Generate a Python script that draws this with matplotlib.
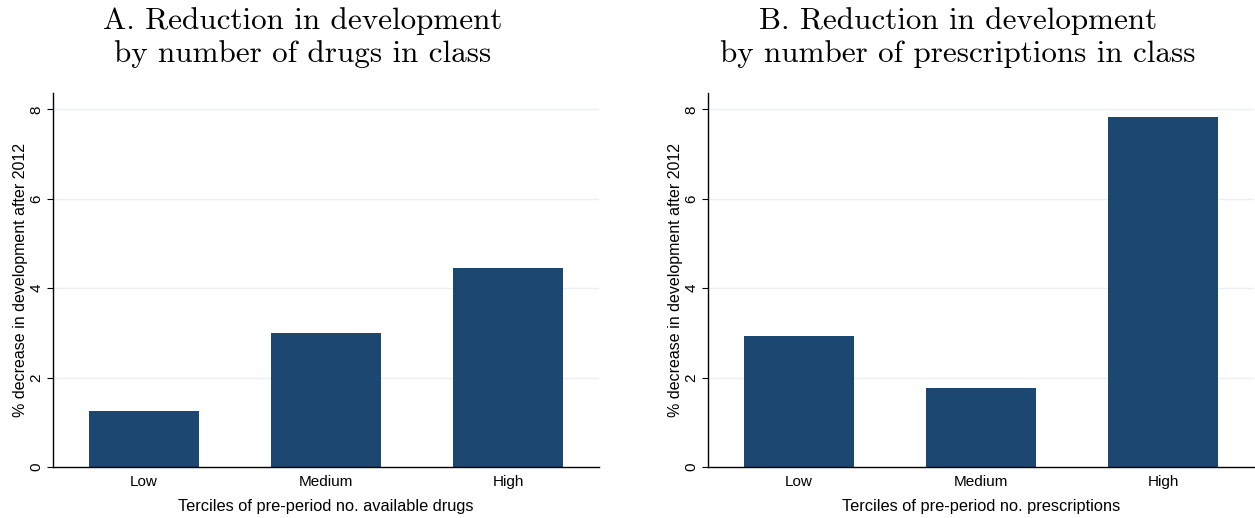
import matplotlib
matplotlib.use("Agg")
import matplotlib.pyplot as plt

# Tercile categories and % decrease in development after 2012
categories = ["Low", "Medium", "High"]
drugs_values = [1.25, 3.00, 4.46]
prescriptions_values = [2.93, 1.77, 7.83]
y_ticks = [0, 2, 4, 6, 8]

title_a = ["A. Reduction in development", "by number of drugs in class"]
title_b = ["B. Reduction in development", "by number of prescriptions in class"]
xlabel_a = "Terciles of pre-period no. available drugs"
xlabel_b = "Terciles of pre-period no. prescriptions"
ylabel = "% decrease in development after 2012"

BAR_COLOR = "#1b4770"
GRID_COLOR = "#eaeff2"
SANS = ["Liberation Sans", "DejaVu Sans"]
SERIF = ["cmr10", "DejaVu Serif"]

fig = plt.figure(figsize=(12.55, 5.18), dpi=100)
W, H = 1255, 518

def panel(left_px, right_px, values, xlabel, title_lines, title_cx):
    bottom_px, top_px = 467, 93
    ax = fig.add_axes([left_px / W, 1 - bottom_px / H,
                       (right_px - left_px) / W, (bottom_px - top_px) / H])
    x = list(range(len(categories)))
    ax.bar(x, values, width=0.6, color=BAR_COLOR, zorder=3)
    ax.set_xlim(-0.5, 2.5)
    ax.set_ylim(0, 8.365)
    ax.set_yticks(y_ticks)
    ax.set_yticklabels([str(t) for t in y_ticks], rotation=90, va="center",
                       family=SANS, fontsize=11)
    ax.set_xticks(x)
    ax.set_xticklabels(categories, family=SANS, fontsize=11)
    ax.tick_params(axis="x", length=0, pad=6)
    ax.tick_params(axis="y", length=4, width=0.8, pad=3, color="black")
    for t in y_ticks[1:]:
        ax.axhline(t, color=GRID_COLOR, lw=1.0, zorder=1)
    for s in ("top", "right"):
        ax.spines[s].set_visible(False)
    for s in ("left", "bottom"):
        ax.spines[s].set_linewidth(1.0)
        ax.spines[s].set_color("black")
    ax.spines["bottom"].set_zorder(4)
    ax.set_xlabel(xlabel, family=SANS, fontsize=11.8, labelpad=7)
    ax.set_ylabel(ylabel, family=SANS, fontsize=11.5, labelpad=1)
    for line, base_px in zip(title_lines, (29, 62)):
        fig.text(title_cx / W, 1 - base_px / H, line, ha="center",
                 va="baseline", family=SERIF, fontsize=22.4)
    return ax

panel(53, 599, drugs_values, xlabel_a, title_a, 303)
panel(708, 1254, prescriptions_values, xlabel_b, title_b, 958)

fig.savefig("out.png", dpi=100, facecolor="white")
